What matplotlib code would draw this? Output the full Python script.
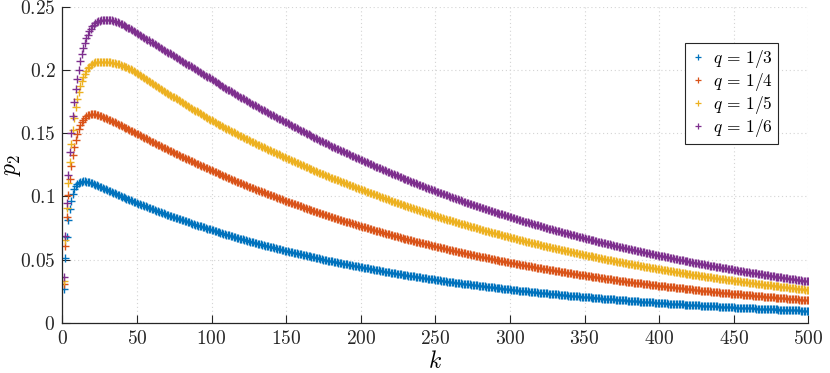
import numpy as np
import matplotlib
matplotlib.use("Agg")
import matplotlib.pyplot as plt
from matplotlib.lines import Line2D
from matplotlib.ticker import FuncFormatter

# p_2 values, in units of 1e-4, for k = 1, 2, ..., 500
p2_q3 = [
    268, 510, 680, 812, 903, 968, 1018, 1056, 1080, 1097,
    1108, 1115, 1118, 1120, 1119, 1117, 1114, 1111, 1107, 1103,
    1098, 1093, 1088, 1083, 1077, 1072, 1067, 1062, 1056, 1051,
    1046, 1041, 1035, 1030, 1025, 1020, 1014, 1009, 1004, 999,
    994, 989, 984, 979, 974, 969, 964, 959, 954, 949,
    944, 940, 935, 930, 926, 921, 916, 911, 907, 902,
    898, 893, 889, 884, 880, 875, 871, 866, 862, 857,
    853, 849, 844, 840, 836, 832, 828, 823, 819, 815,
    811, 807, 803, 799, 795, 790, 786, 782, 778, 774,
    770, 766, 763, 759, 755, 751, 747, 744, 740, 736,
    732, 729, 725, 721, 718, 714, 710, 707, 703, 699,
    696, 692, 689, 685, 682, 678, 675, 671, 668, 664,
    661, 657, 654, 651, 648, 644, 641, 638, 634, 631,
    628, 625, 622, 619, 616, 612, 609, 606, 603, 600,
    597, 594, 591, 588, 585, 582, 579, 576, 573, 570,
    567, 564, 562, 559, 556, 553, 550, 548, 545, 542,
    539, 537, 534, 531, 528, 526, 523, 520, 518, 515,
    512, 510, 507, 505, 502, 499, 497, 494, 492, 489,
    487, 484, 482, 479, 477, 475, 472, 470, 467, 465,
    463, 460, 458, 456, 453, 451, 449, 447, 444, 442,
    440, 438, 435, 433, 431, 429, 427, 424, 422, 420,
    418, 416, 414, 412, 410, 407, 405, 403, 401, 399,
    397, 395, 393, 391, 389, 387, 385, 383, 381, 379,
    377, 375, 373, 371, 370, 368, 366, 364, 362, 360,
    358, 356, 355, 353, 351, 349, 347, 346, 344, 342,
    340, 339, 337, 335, 334, 332, 330, 328, 327, 325,
    323, 322, 320, 319, 317, 315, 314, 312, 311, 309,
    308, 306, 305, 303, 302, 300, 299, 297, 296, 294,
    293, 291, 290, 288, 287, 285, 284, 282, 281, 279,
    278, 276, 275, 273, 272, 271, 269, 268, 266, 265,
    264, 262, 261, 260, 259, 257, 256, 255, 253, 252,
    251, 250, 248, 247, 246, 245, 244, 242, 241, 240,
    239, 237, 236, 235, 234, 233, 232, 230, 229, 228,
    227, 226, 224, 223, 222, 221, 220, 218, 217, 216,
    215, 214, 213, 212, 211, 210, 209, 208, 207, 206,
    205, 204, 203, 202, 201, 199, 198, 197, 196, 195,
    194, 193, 192, 191, 190, 190, 189, 188, 187, 186,
    185, 184, 183, 182, 181, 180, 179, 178, 177, 176,
    175, 174, 174, 173, 172, 171, 170, 170, 169, 168,
    167, 166, 165, 164, 164, 163, 162, 161, 160, 159,
    158, 157, 157, 156, 155, 154, 153, 153, 152, 151,
    150, 150, 149, 148, 148, 147, 146, 145, 145, 144,
    143, 142, 142, 141, 140, 140, 139, 138, 138, 137,
    136, 136, 135, 134, 134, 133, 132, 131, 131, 130,
    129, 129, 128, 127, 127, 126, 125, 125, 124, 123,
    122, 122, 121, 121, 120, 119, 119, 118, 118, 117,
    116, 116, 115, 115, 114, 114, 113, 113, 112, 112,
    111, 110, 110, 109, 109, 108, 108, 107, 107, 106,
    105, 105, 104, 104, 103, 103, 102, 102, 101, 101,
    100, 100, 99, 99, 98, 98, 97, 97, 96, 96,
]

p2_q4 = [
    310, 610, 838, 1010, 1140, 1242, 1325, 1392, 1448, 1494,
    1532, 1563, 1588, 1608, 1623, 1635, 1643, 1648, 1651, 1652,
    1652, 1650, 1647, 1643, 1638, 1633, 1628, 1623, 1618, 1612,
    1607, 1602, 1596, 1591, 1585, 1580, 1574, 1568, 1563, 1557,
    1551, 1545, 1539, 1533, 1527, 1521, 1515, 1509, 1503, 1497,
    1491, 1484, 1478, 1472, 1466, 1459, 1453, 1447, 1440, 1434,
    1428, 1422, 1416, 1410, 1404, 1398, 1392, 1386, 1380, 1374,
    1368, 1362, 1357, 1351, 1345, 1339, 1333, 1327, 1322, 1316,
    1310, 1305, 1299, 1294, 1288, 1282, 1277, 1271, 1266, 1260,
    1255, 1249, 1244, 1239, 1234, 1228, 1223, 1218, 1212, 1207,
    1202, 1196, 1191, 1186, 1181, 1175, 1170, 1165, 1159, 1154,
    1149, 1144, 1139, 1134, 1129, 1123, 1118, 1113, 1108, 1103,
    1098, 1093, 1089, 1084, 1079, 1074, 1069, 1065, 1060, 1055,
    1050, 1046, 1041, 1037, 1032, 1027, 1023, 1018, 1014, 1009,
    1004, 1000, 995, 991, 986, 982, 977, 973, 968, 964,
    960, 955, 951, 947, 943, 938, 934, 930, 925, 921,
    917, 913, 908, 904, 900, 896, 892, 887, 883, 879,
    875, 871, 867, 863, 860, 856, 852, 848, 844, 840,
    836, 832, 829, 825, 821, 817, 813, 810, 806, 802,
    798, 795, 791, 788, 784, 780, 777, 773, 770, 766,
    762, 759, 755, 752, 748, 745, 741, 738, 734, 731,
    728, 724, 721, 717, 714, 711, 707, 704, 700, 697,
    694, 691, 687, 684, 681, 678, 675, 671, 668, 665,
    662, 659, 656, 653, 650, 647, 644, 641, 638, 635,
    632, 629, 626, 623, 621, 618, 615, 612, 609, 606,
    603, 600, 598, 595, 592, 589, 586, 584, 581, 578,
    575, 572, 570, 567, 565, 562, 559, 556, 554, 551,
    548, 546, 543, 541, 538, 535, 533, 530, 528, 525,
    523, 520, 518, 515, 513, 511, 508, 506, 503, 501,
    499, 496, 494, 492, 490, 487, 485, 483, 480, 478,
    476, 473, 471, 469, 467, 464, 462, 460, 457, 455,
    453, 451, 449, 447, 445, 442, 440, 438, 436, 434,
    432, 430, 428, 426, 424, 422, 420, 418, 416, 414,
    412, 410, 408, 406, 404, 402, 400, 398, 396, 394,
    392, 390, 389, 387, 385, 383, 381, 380, 378, 376,
    374, 372, 371, 369, 367, 365, 363, 362, 360, 358,
    356, 355, 353, 351, 350, 348, 346, 344, 343, 341,
    339, 338, 336, 335, 333, 331, 330, 328, 327, 325,
    323, 322, 320, 319, 317, 316, 314, 313, 311, 310,
    308, 307, 305, 304, 302, 301, 299, 298, 296, 295,
    294, 292, 291, 289, 288, 287, 285, 284, 282, 281,
    280, 278, 277, 275, 274, 273, 271, 270, 268, 267,
    266, 265, 263, 262, 261, 260, 259, 257, 256, 255,
    254, 252, 251, 250, 249, 247, 246, 245, 243, 242,
    241, 240, 239, 238, 237, 235, 234, 233, 232, 231,
    230, 229, 228, 227, 226, 224, 223, 222, 221, 220,
    219, 218, 217, 216, 215, 213, 212, 211, 210, 209,
    208, 207, 206, 205, 204, 203, 202, 201, 200, 199,
    198, 197, 196, 195, 194, 193, 192, 191, 190, 189,
    188, 187, 186, 185, 185, 184, 183, 182, 181, 180,
]

p2_q5 = [
    335, 657, 912, 1110, 1275, 1413, 1528, 1624, 1704, 1771,
    1827, 1874, 1913, 1945, 1972, 1994, 2012, 2027, 2039, 2048,
    2055, 2060, 2063, 2065, 2066, 2066, 2066, 2065, 2065, 2064,
    2062, 2060, 2058, 2056, 2053, 2050, 2047, 2044, 2040, 2035,
    2031, 2026, 2021, 2016, 2010, 2004, 1997, 1991, 1984, 1976,
    1968, 1960, 1952, 1944, 1937, 1929, 1921, 1913, 1905, 1897,
    1889, 1882, 1874, 1866, 1859, 1851, 1843, 1835, 1828, 1820,
    1813, 1805, 1798, 1790, 1783, 1775, 1768, 1760, 1753, 1745,
    1738, 1730, 1723, 1716, 1709, 1701, 1694, 1687, 1679, 1672,
    1665, 1658, 1651, 1644, 1637, 1629, 1622, 1615, 1608, 1601,
    1595, 1588, 1582, 1575, 1569, 1563, 1556, 1550, 1543, 1537,
    1531, 1525, 1518, 1512, 1506, 1500, 1494, 1487, 1481, 1475,
    1469, 1463, 1457, 1451, 1446, 1440, 1434, 1428, 1422, 1416,
    1410, 1405, 1399, 1393, 1388, 1382, 1376, 1370, 1365, 1359,
    1354, 1348, 1343, 1337, 1332, 1326, 1321, 1315, 1310, 1304,
    1299, 1293, 1288, 1283, 1278, 1272, 1267, 1262, 1256, 1251,
    1246, 1241, 1235, 1230, 1225, 1220, 1215, 1209, 1204, 1199,
    1194, 1189, 1184, 1179, 1175, 1170, 1165, 1160, 1155, 1150,
    1145, 1141, 1136, 1131, 1127, 1122, 1117, 1112, 1108, 1103,
    1098, 1094, 1089, 1085, 1080, 1075, 1071, 1066, 1062, 1057,
    1053, 1048, 1044, 1039, 1035, 1030, 1026, 1021, 1017, 1012,
    1008, 1003, 999, 994, 990, 986, 981, 977, 972, 968,
    964, 960, 956, 952, 948, 943, 939, 935, 931, 927,
    923, 919, 915, 911, 907, 903, 899, 895, 891, 887,
    883, 879, 875, 871, 868, 864, 860, 856, 852, 848,
    844, 841, 837, 833, 830, 826, 822, 818, 815, 811,
    807, 804, 800, 797, 793, 789, 786, 782, 779, 775,
    772, 768, 765, 761, 758, 755, 751, 748, 744, 741,
    738, 735, 731, 728, 725, 722, 719, 715, 712, 709,
    706, 703, 700, 697, 694, 690, 687, 684, 681, 678,
    675, 672, 669, 666, 663, 659, 656, 653, 650, 647,
    644, 641, 638, 635, 633, 630, 627, 624, 621, 618,
    615, 612, 610, 607, 604, 601, 598, 596, 593, 590,
    587, 585, 582, 580, 577, 574, 572, 569, 567, 564,
    561, 559, 556, 554, 551, 548, 546, 543, 541, 538,
    536, 533, 531, 528, 526, 524, 521, 519, 516, 514,
    512, 509, 507, 504, 502, 500, 497, 495, 492, 490,
    488, 486, 483, 481, 479, 477, 475, 472, 470, 468,
    466, 464, 461, 459, 457, 455, 453, 450, 448, 446,
    444, 442, 440, 438, 436, 434, 432, 430, 428, 426,
    424, 422, 420, 418, 416, 414, 412, 410, 408, 406,
    404, 402, 400, 398, 397, 395, 393, 391, 389, 387,
    385, 383, 382, 380, 378, 376, 374, 373, 371, 369,
    367, 365, 364, 362, 360, 358, 356, 355, 353, 351,
    349, 348, 346, 345, 343, 341, 340, 338, 337, 335,
    333, 332, 330, 329, 327, 325, 324, 322, 321, 319,
    318, 316, 315, 313, 312, 310, 309, 307, 306, 304,
    303, 301, 300, 298, 297, 295, 294, 292, 291, 289,
    288, 286, 285, 283, 282, 281, 279, 278, 276, 275,
    274, 272, 271, 270, 268, 267, 266, 264, 263, 262,
]

p2_q6 = [
    360, 690, 950, 1170, 1350, 1505, 1640, 1750, 1846, 1930,
    2003, 2067, 2123, 2171, 2213, 2249, 2280, 2306, 2327, 2345,
    2359, 2370, 2378, 2384, 2389, 2392, 2394, 2395, 2396, 2396,
    2395, 2394, 2392, 2389, 2385, 2381, 2377, 2372, 2366, 2361,
    2355, 2348, 2342, 2335, 2328, 2321, 2313, 2306, 2299, 2291,
    2284, 2277, 2269, 2262, 2255, 2247, 2240, 2233, 2225, 2218,
    2211, 2204, 2196, 2189, 2182, 2174, 2167, 2160, 2152, 2145,
    2138, 2131, 2123, 2116, 2109, 2101, 2094, 2087, 2079, 2072,
    2065, 2058, 2050, 2043, 2036, 2028, 2021, 2014, 2006, 1999,
    1992, 1985, 1977, 1970, 1963, 1955, 1948, 1941, 1933, 1926,
    1919, 1911, 1904, 1896, 1889, 1882, 1874, 1867, 1859, 1852,
    1845, 1838, 1831, 1824, 1817, 1810, 1803, 1796, 1789, 1782,
    1775, 1768, 1761, 1754, 1748, 1741, 1734, 1727, 1720, 1713,
    1706, 1700, 1693, 1687, 1680, 1674, 1667, 1661, 1654, 1648,
    1642, 1635, 1629, 1623, 1616, 1610, 1604, 1598, 1591, 1585,
    1579, 1572, 1566, 1559, 1553, 1547, 1540, 1534, 1527, 1521,
    1515, 1509, 1503, 1497, 1491, 1484, 1478, 1472, 1466, 1460,
    1454, 1448, 1442, 1436, 1431, 1425, 1419, 1413, 1407, 1401,
    1395, 1390, 1384, 1379, 1373, 1367, 1362, 1356, 1351, 1345,
    1340, 1334, 1329, 1323, 1318, 1313, 1307, 1302, 1296, 1291,
    1286, 1280, 1275, 1269, 1264, 1259, 1253, 1248, 1242, 1237,
    1232, 1227, 1222, 1217, 1212, 1206, 1201, 1196, 1191, 1186,
    1181, 1176, 1171, 1166, 1161, 1156, 1151, 1146, 1141, 1136,
    1131, 1127, 1122, 1117, 1113, 1108, 1103, 1098, 1094, 1089,
    1084, 1080, 1075, 1071, 1066, 1061, 1057, 1052, 1048, 1043,
    1039, 1034, 1030, 1025, 1021, 1017, 1012, 1008, 1003, 999,
    995, 990, 986, 982, 978, 973, 969, 965, 960, 956,
    952, 948, 944, 940, 936, 932, 928, 924, 920, 916,
    912, 908, 904, 900, 896, 892, 888, 884, 880, 876,
    872, 869, 865, 861, 858, 854, 850, 846, 843, 839,
    835, 832, 828, 824, 821, 817, 813, 809, 806, 802,
    799, 795, 792, 788, 785, 781, 778, 774, 771, 767,
    764, 760, 757, 754, 751, 747, 744, 741, 737, 734,
    731, 728, 724, 721, 718, 715, 712, 708, 705, 702,
    699, 696, 693, 690, 687, 683, 680, 677, 674, 671,
    668, 665, 662, 659, 656, 653, 650, 647, 644, 641,
    638, 635, 632, 629, 627, 624, 621, 618, 615, 612,
    609, 607, 604, 601, 599, 596, 593, 590, 588, 585,
    582, 580, 577, 575, 572, 569, 567, 564, 562, 559,
    556, 554, 551, 549, 546, 543, 541, 538, 536, 533,
    531, 528, 526, 523, 521, 519, 516, 514, 511, 509,
    507, 504, 502, 499, 497, 495, 492, 490, 487, 485,
    483, 481, 478, 476, 474, 472, 470, 467, 465, 463,
    461, 459, 456, 454, 452, 450, 448, 445, 443, 441,
    439, 437, 435, 433, 431, 429, 427, 425, 423, 421,
    419, 417, 415, 413, 411, 409, 407, 405, 403, 401,
    399, 397, 395, 393, 392, 390, 388, 386, 384, 382,
    380, 378, 376, 374, 373, 371, 369, 367, 365, 363,
    361, 360, 358, 356, 355, 353, 351, 349, 348, 346,
    344, 343, 341, 340, 338, 336, 335, 333, 332, 330,
]

series_labels = [r"$q\,=\,1/3$", r"$q\,=\,1/4$", r"$q\,=\,1/5$", r"$q\,=\,1/6$"]
series_colors = ["#0072BD", "#D95319", "#EDB120", "#7E2F8E"]
x_ticks = [0, 50, 100, 150, 200, 250, 300, 350, 400, 450, 500]
y_ticks = [0, 0.05, 0.1, 0.15, 0.2, 0.25]

plt.rcParams["mathtext.fontset"] = "cm"
plt.rcParams["font.family"] = ["DejaVu Serif"]

fig = plt.figure(figsize=(8.3, 3.73), dpi=100)
ax = fig.add_axes([0.0751, 0.134, 0.8988, 0.848])

all_series = [p2_q3, p2_q4, p2_q5, p2_q6]
for vals, col in zip(all_series, series_colors):
    y = np.asarray(vals, dtype=float) / 1e4
    k = np.arange(1, len(y) + 1)
    ax.plot(k, y, linestyle="none", marker="+", markersize=5.4,
            markeredgewidth=1.0, color=col)

ax.set_xlim(0, 500)
ax.set_ylim(0, 0.25)
ax.set_xticks(x_ticks)
ax.set_yticks(y_ticks)
fmt = FuncFormatter(lambda v, p: "$%s$" % ("%g" % round(v, 4)))
ax.xaxis.set_major_formatter(fmt)
ax.yaxis.set_major_formatter(fmt)
ax.tick_params(direction="in", length=5.5, width=0.8, labelsize=14,
               colors="#262626", top=False, right=False)
ax.tick_params(axis="x", pad=5)
ax.tick_params(axis="y", pad=5)

for side in ["top", "right"]:
    ax.spines[side].set_visible(False)
for side in ["left", "bottom"]:
    ax.spines[side].set_color("#262626")
    ax.spines[side].set_linewidth(0.9)

ax.grid(True, linestyle=(0, (1, 2.5)), color="#d4d4d4", linewidth=0.8)
ax.set_axisbelow(True)

ax.set_xlabel(r"$k$", fontsize=17)
ax.xaxis.set_label_coords(0.5, -0.085)
ax.set_ylabel(r"$p_2$", fontsize=17)
ax.yaxis.set_label_coords(-0.053, 0.5)

handles = [Line2D([], [], linestyle="none", marker="+", markersize=4,
                  markeredgewidth=0.9, color=c) for c in series_colors]
leg = ax.legend(handles, series_labels, loc="upper right",
                bbox_to_anchor=(0.960, 0.885), borderaxespad=0,
                fontsize=12.5, handlelength=0.9, handletextpad=0.45,
                labelspacing=0.05, borderpad=0.3, fancybox=False,
                framealpha=1, edgecolor="#262626")
leg.get_frame().set_linewidth(0.8)

fig.savefig("out.png", dpi=100)
